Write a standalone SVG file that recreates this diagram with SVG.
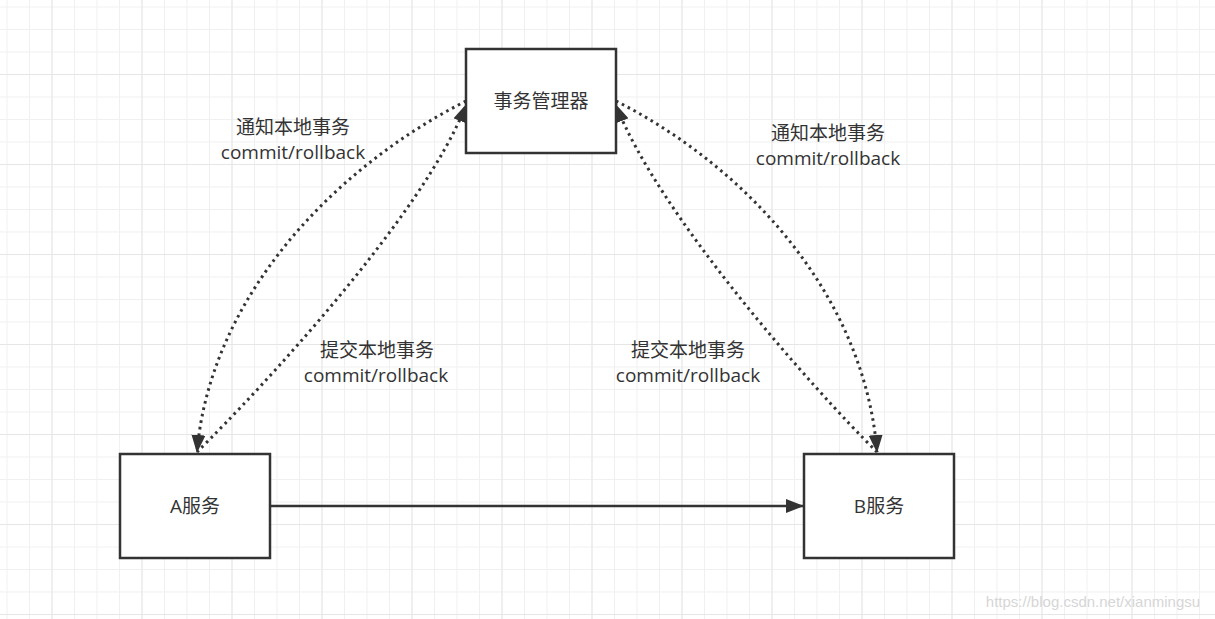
<svg xmlns="http://www.w3.org/2000/svg" width="1215" height="619" viewBox="0 0 1215 619">
<style>
.box{fill:#ffffff;stroke:#333333;stroke-width:2.5}
.lbl{font-family:"Open Sans","Noto Sans CJK SC",sans-serif;font-size:19px;fill:#333333;text-anchor:middle}
.solid{fill:none;stroke:#333333;stroke-width:2.5}
.dot{fill:none;stroke:#333333;stroke-width:3;stroke-dasharray:2.6 4}
</style>
<defs>
<pattern id="minor" patternUnits="userSpaceOnUse" x="6.5" y="6.5" width="22.5" height="22.5">
<path d="M0.5 0V22.5M0 0.5H22.5" stroke="#f0f0f0" stroke-width="1" fill="none"/>
</pattern>
<pattern id="major" patternUnits="userSpaceOnUse" x="51.5" y="74" width="90" height="90">
<path d="M0.5 0V90M0 0.5H90" stroke="#e6e6e6" stroke-width="1" fill="none"/>
</pattern>
<marker id="arr" markerUnits="userSpaceOnUse" viewBox="0 0 18 14" markerWidth="18" markerHeight="14" refX="17" refY="7" orient="auto">
<path d="M0 0L18 7L0 14z" fill="#333333"/>
</marker>
</defs>
<rect width="1215" height="619" fill="#ffffff"/>
<rect width="1215" height="619" fill="url(#minor)"/>
<rect width="1215" height="619" fill="url(#major)"/>
<g id="connectors">
<path class="solid" d="M270 506H803" marker-end="url(#arr)"/>
<path class="dot" d="M466 101C330 170 210 300 197 452" marker-end="url(#arr)"/>
<path class="dot" d="M197 452C260 390 424 214 466 105" marker-end="url(#arr)"/>
<path class="dot" d="M616 101C752 170 865 300 877 452" marker-end="url(#arr)"/>
<path class="dot" d="M877 452C814 390 658 214 616 105" marker-end="url(#arr)"/>
</g>
<g id="labels">
<text class="lbl" x="293" y="134">通知本地事务</text>
<text class="lbl" x="293" y="159">commit/rollback</text>
<text class="lbl" x="828" y="140">通知本地事务</text>
<text class="lbl" x="828" y="165">commit/rollback</text>
<text class="lbl" x="377" y="357">提交本地事务</text>
<text class="lbl" x="376" y="382">commit/rollback</text>
<text class="lbl" x="688" y="357">提交本地事务</text>
<text class="lbl" x="688" y="382">commit/rollback</text>
</g>
<g id="manager">
<rect class="box" x="466" y="49" width="150" height="104"/>
<text class="lbl" x="541" y="108">事务管理器</text>
</g>
<g id="serviceA">
<rect class="box" x="120" y="454" width="150" height="104"/>
<text class="lbl" x="195" y="513">A服务</text>
</g>
<g id="serviceB">
<rect class="box" x="804" y="454" width="150" height="104"/>
<text class="lbl" x="879" y="513">B服务</text>
</g>
<text x="1093" y="607" font-family="'Liberation Sans',Arial,sans-serif" font-size="15" fill="#d6d6d6" text-anchor="middle">https://blog.csdn.net/xianmingsu</text>
</svg>
